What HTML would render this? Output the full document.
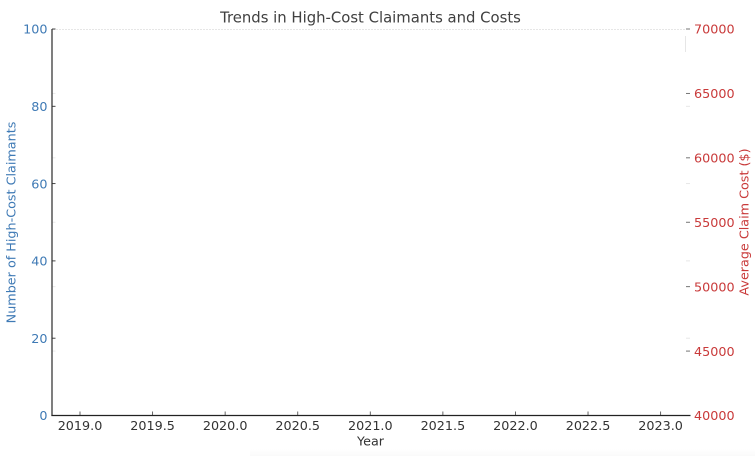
<!DOCTYPE html>
<html lang="en">
<head>
<meta charset="utf-8">
<title>Trends in High-Cost Claimants and Costs</title>
<style>
html,body{margin:0;padding:0;background:#fff;width:755px;height:456px;overflow:hidden}
svg{display:block}
text{font-family:"DejaVu Sans","Liberation Sans",sans-serif}
</style>
</head>
<body>
<svg id="chart" xmlns="http://www.w3.org/2000/svg" width="755" height="456" viewBox="0 0 755 456">
  <defs>
    <linearGradient id="bottom-fade" x1="0" y1="0" x2="0" y2="1">
      <stop offset="0" stop-color="#ffffff"/>
      <stop offset="1" stop-color="#fafafa"/>
    </linearGradient>
  </defs>
  <rect width="755" height="456" fill="#fff"/>
  <rect x="250" y="449" width="505" height="7" fill="url(#bottom-fade)"/>
  <line x1="53" y1="29.5" x2="686" y2="29.5" stroke="#e6e6e6" stroke-width="1" stroke-dasharray="2 1"/>
  <line x1="685.5" y1="36" x2="685.5" y2="52" stroke="#e6e6e6" stroke-width="1"/>
  <g id="x-ticks"></g>
  <g id="left-ticks"></g>
  <g id="right-ticks"></g>
  <line x1="52" y1="29" x2="52" y2="416" stroke="#2a2a2a" stroke-width="1.2"/>
  <line x1="51.4" y1="415.5" x2="690.5" y2="415.5" stroke="#222" stroke-width="1.2"/>
  <text x="370.5" y="22.5" text-anchor="middle" font-size="14.85" fill="#404040">Trends in High-Cost Claimants and Costs</text>
  <text x="370.5" y="445.5" text-anchor="middle" font-size="12.75" fill="#333">Year</text>
  <text transform="translate(15.5,222.5) rotate(-90)" text-anchor="middle" font-size="12.75" fill="#3f7ab5">Number of High-Cost Claimants</text>
  <text transform="translate(748.5,222) rotate(-90)" text-anchor="middle" font-size="12.75" fill="#c93a3a">Average Claim Cost ($)</text>
</svg>
<script>
const xTickValues = [2019.0, 2019.5, 2020.0, 2020.5, 2021.0, 2021.5, 2022.0, 2022.5, 2023.0];
const leftTickValues = [0, 20, 40, 60, 80, 100];
const rightTickValues = [40000, 45000, 50000, 55000, 60000, 65000, 70000];
const NS = 'http://www.w3.org/2000/svg';
function xScale(v) { return 80 + (v - 2019) * 145.15; }
function leftScale(v) { return 415.5 - v * 3.865; }
function rightScale(v) { return 415.5 - (v - 40000) * 386.5 / 30000; }
function make(tag, attrs, parent, content) {
  const el = document.createElementNS(NS, tag);
  Object.keys(attrs).forEach(function (k) { el.setAttribute(k, attrs[k]); });
  if (content !== undefined) el.textContent = content;
  parent.appendChild(el);
  return el;
}
const xGroup = document.getElementById('x-ticks');
const leftGroup = document.getElementById('left-ticks');
const rightGroup = document.getElementById('right-ticks');
xTickValues.forEach(function (v) {
  const x = xScale(v);
  const tick = make('line', { x1: x, y1: 411.5, x2: x, y2: 415.5, stroke: '#555', 'stroke-width': 0.9 }, xGroup);
  
  
  const label = make('text', { x: x, y: 430, 'text-anchor': 'middle', 'font-size': 12.75, fill: '#333' }, xGroup, v.toFixed(1));
  
  
});
leftTickValues.forEach(function (v) {
  const y = leftScale(v);
  const tick = make('line', { x1: 52, y1: y, x2: 55.5, y2: y, stroke: '#333', 'stroke-width': 0.9 }, leftGroup);
  
  
  const label = make('text', { x: 47.5, y: y + 4.7, 'text-anchor': 'end', 'font-size': 12.75, fill: '#3f7ab5' }, leftGroup, String(v));
  
  
  if (v > 0 && v < 100) {
    const faint = make('line', { x1: 686, y1: y, x2: 690, y2: y, stroke: '#e4e4e4', 'stroke-width': 0.9 }, leftGroup);
    
    
  }
});
rightTickValues.forEach(function (v) {
  const y = rightScale(v);
  const tick = make('line', { x1: 686, y1: y, x2: 690, y2: y, stroke: '#666', 'stroke-width': 0.9 }, rightGroup);
  
  
  const label = make('text', { x: 694, y: y + 4.7, 'text-anchor': 'start', 'font-size': 12.75, fill: '#c93a3a' }, rightGroup, String(v));
  
  
  if (v > 40000 && v < 70000) {
    const faintLeft = make('line', { x1: 52.6, y1: y, x2: 55.5, y2: y, stroke: '#e8e8e8', 'stroke-width': 0.9 }, rightGroup);
    
    
  }
});
</script>
</body>
</html>
